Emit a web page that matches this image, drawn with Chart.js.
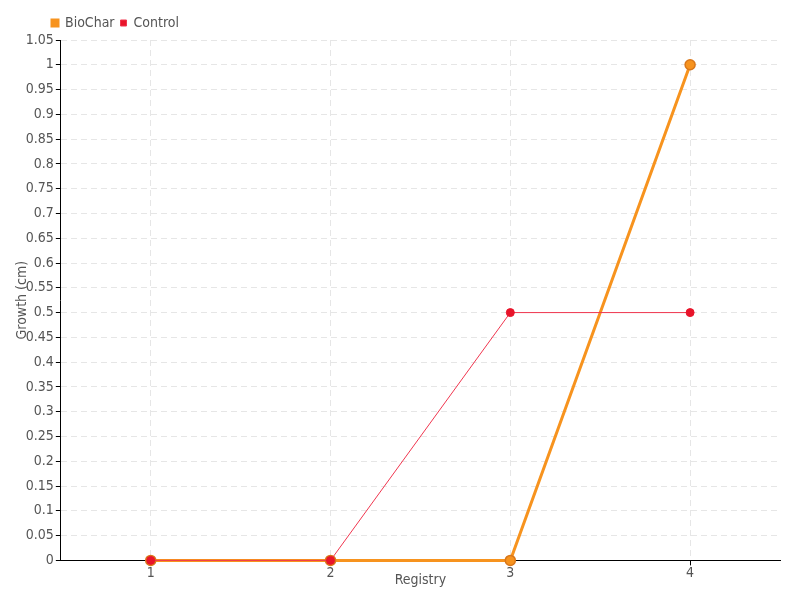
<!DOCTYPE html>
<html><head><meta charset="utf-8">
<script src="https://cdn.jsdelivr.net/npm/chart.js@4"></script>
<style>html,body{margin:0;padding:0;background:#fff}#w{width:800px;height:600px}</style>
</head><body><div id="w"><canvas id="c" width="800" height="600"></canvas></div>
<script>
const categories = ['1', '2', '3', '4'];
const biocharValues = [0, 0, 0, 1];
const controlValues = [0, 0, 0.5, 0.5];

const FONT = "'Liberation Sans Narrow', 'DejaVu Sans Condensed', sans-serif";
Chart.defaults.font.family = FONT;
Chart.defaults.color = '#555';

const shiftLegend = {
  id: 'shiftLegend',
  afterLayout(chart) {
    const lg = chart.legend;
    if (lg) { lg.left += 39; lg.right += 39; }
  }
};

new Chart(document.getElementById('c'), {
  type: 'line',
  data: {
    labels: categories,
    datasets: [
      {
        label: 'BioChar', data: biocharValues,
        borderColor: '#f7931e', backgroundColor: '#f7931e',
        borderWidth: 3, pointRadius: 5, pointBorderWidth: 1.5,
        pointBackgroundColor: '#f7931e', pointBorderColor: '#d9771a',
        tension: 0, order: 2, clip: false
      },
      {
        label: 'Control', data: controlValues,
        borderColor: '#f0364f', backgroundColor: '#e8142a',
        borderWidth: 1, pointRadius: 4, pointBorderWidth: 1,
        pointBackgroundColor: '#e8142a', pointBorderColor: '#e8142a',
        tension: 0, order: 1, clip: false
      }
    ]
  },
  plugins: [shiftLegend],
  options: {
    responsive: false, animation: false,
    layout: { padding: { left: 7, right: 20, top: 10, bottom: 11 } },
    plugins: {
      legend: {
        position: 'top', align: 'start',
        labels: { boxWidth: 6, boxHeight: 6, padding: 6, font: { size: 14 },
                  sort: (a, b) => a.datasetIndex - b.datasetIndex }
      },
      tooltip: { enabled: false }
    },
    scales: {
      x: {
        offset: true,
        grid: { color: '#e6e6e6', tickColor: '#000', tickLength: 5, offset: false },
        border: { color: '#000', width: 1, dash: [6, 4] },
        ticks: { font: { size: 14 }, padding: 0 },
        title: { display: true, text: 'Registry', font: { size: 14 }, padding: { top: -10, bottom: 0 } }
      },
      y: {
        min: 0, max: 1.05,
        grid: { color: '#e6e6e6', tickColor: '#000', tickLength: 5 },
        border: { color: '#000', width: 1, dash: [6, 4] },
        ticks: { stepSize: 0.05, font: { size: 14 }, padding: 2,
                 callback: v => String(Math.round(v * 100) / 100) },
        title: { display: true, text: 'Growth (cm)', font: { size: 14 }, padding: { top: 7, bottom: -7 } }
      }
    }
  }
});
</script></body></html>
